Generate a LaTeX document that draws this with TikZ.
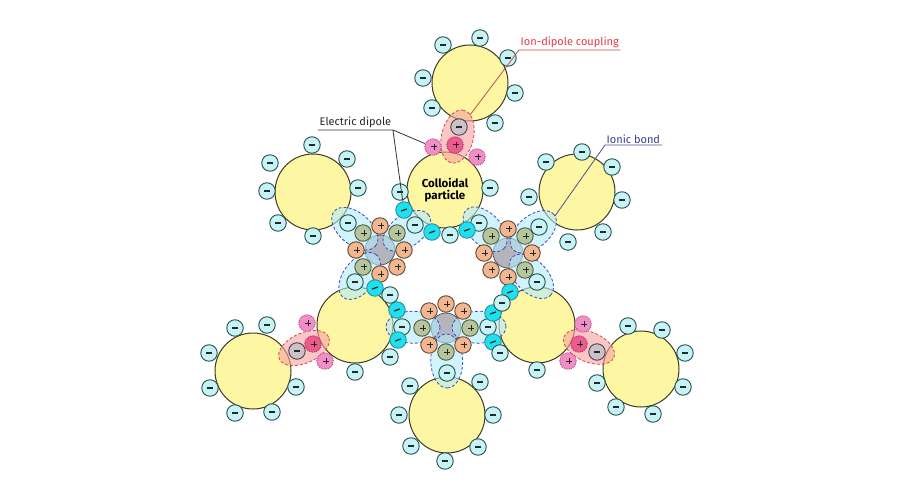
\documentclass[tikz,border=0pt]{standalone}
\usepackage{fontspec}
\setmainfont{Fira Sans}
\usetikzlibrary{calc,shapes.geometric}
\definecolor{partF}{HTML}{FDF6A3}
\definecolor{partD}{HTML}{3C3C28}
\definecolor{negF}{HTML}{C8F3F6}
\definecolor{negD}{HTML}{28504F}
\definecolor{dipF}{HTML}{1FE0EE}
\definecolor{dipD}{HTML}{2A8C9C}
\definecolor{opF}{HTML}{F4B68E}
\definecolor{opD}{HTML}{5E4836}
\definecolor{gpF}{HTML}{B7C59C}
\definecolor{gpD}{HTML}{4E5A44}
\definecolor{hubF}{HTML}{B4B4BC}
\definecolor{hubD}{HTML}{4C5A68}
\definecolor{ppF}{HTML}{F38DC6}
\definecolor{ppD}{HTML}{B8407E}
\definecolor{rpF}{HTML}{EE5A8C}
\definecolor{rpD}{HTML}{A83060}
\definecolor{gnF}{HTML}{CBC1C6}
\definecolor{gnD}{HTML}{4A4448}
\definecolor{brF}{HTML}{B2EBFA}
\definecolor{brD}{HTML}{3A4CC0}
\definecolor{pkF}{HTML}{F7A0A0}
\definecolor{pkD}{HTML}{D84848}
\definecolor{idT}{HTML}{E8384A}
\definecolor{idL}{HTML}{C0504A}
\definecolor{ibT}{HTML}{3A3A9C}
\definecolor{ibL}{HTML}{4E4E8E}
\definecolor{sgn}{HTML}{1E2A2C}
\newcommand\sgnplus{\rlap{\raisebox{2.5pt}{\rule{6pt}{1pt}}}\hspace{2.5pt}\rule{1pt}{6pt}\hspace{2.5pt}}
\newcommand\sgnminus{\rule{6pt}{1.3pt}}
\newcommand\bridge[3]{\path ($(#1)!6pt!(#2)$) -- ($(#1)!60pt!(#2)$) node[midway, sloped, bridgeN] (#3) {};}
\begin{document}
\begin{tikzpicture}[x=1pt,y=-1pt,
  ion/.style={circle, draw, line width=0.9pt, minimum size=16.5pt, inner sep=0pt, text=sgn},
  neg/.style={ion, fill=negF, draw=negD},
  dip/.style={ion, fill=dipF, draw=dipD, rotate=20},
  op/.style={ion, fill=opF, draw=opD},
  gp/.style={ion, fill=gpF, draw=gpD},
  pp/.style={ion, fill=ppF, draw=ppD, densely dotted},
  rp/.style={ion, fill=rpF, draw=rpD, densely dotted},
  gn/.style={ion, fill=gnF, draw=gnD},
  hub/.style={circle, draw=hubD, fill=hubF, line width=0.8pt, minimum size=30pt, inner sep=0pt},
  particle/.style={circle, draw=partD, fill=partF, line width=1pt, minimum size=76pt, inner sep=0pt},
  bridgeN/.style={ellipse, minimum width=54pt, minimum height=32pt, inner sep=0pt, fill=brF, fill opacity=0.6, draw=brD, dash pattern=on 3pt off 2pt, line width=0.8pt},
  pinkN/.style={ellipse, minimum width=54pt, minimum height=32pt, inner sep=0pt, fill=pkF, fill opacity=0.6, draw=pkD, dash pattern=on 3pt off 2pt, line width=0.8pt},
  lab/.style={font=\fontsize{11}{13}\selectfont, inner sep=1.5pt, anchor=south west},
  leader/.style={line width=0.8pt},
]
\useasboundingbox (0,0) rectangle (900,500);

% particles
\node[particle] (P1) at (470,83) {};
\node[particle, align=center, font=\bfseries\fontsize{11.5}{12.5}\selectfont] (P2) at (445,190) {Colloidal\\particle};
\node[particle] (P3) at (313,192) {};
\node[particle] (P4) at (577,192) {};
\node[particle] (P5) at (355,325) {};
\node[particle] (P6) at (537,325) {};
\node[particle] (P7) at (253,371) {};
\node[particle] (P8) at (641,369) {};
\node[particle] (P9) at (447,415) {};

% coordinates
\coordinate (HA) at (380,250);
\coordinate (HB) at (508,253);
\coordinate (HC) at (446,328);
\coordinate (ca1) at (348,223);
\coordinate (ca2) at (415,225);
\coordinate (ca3) at (355,282);
\coordinate (cb1) at (479,223);
\coordinate (cb2) at (539,227);
\coordinate (cb3) at (537,282);
\coordinate (cc1) at (402,327);
\coordinate (cc2) at (488,327);
\coordinate (cc3) at (447,373);

% ion-dipole regions
\path (P1.center) -- (P2.center) node[midway, sloped, pinkN] (E1) {};
\path (P7.center) -- (P5.center) node[midway, sloped, pinkN, minimum height=30pt] (E2) {};
\path (P6.center) -- (P8.center) node[midway, sloped, pinkN, minimum height=30pt] (E3) {};

% hubs
\node[hub] (HAn) at (HA) {};
\node[hub] (HBn) at (HB) {};
\node[hub] (HCn) at (HC) {};

% ionic bond regions
\bridge{HA}{ca1}{EA1}
\bridge{HA}{ca2}{EA2}
\bridge{HA}{ca3}{EA3}
\bridge{HB}{cb1}{EB1}
\bridge{HB}{cb2}{EB2}
\bridge{HB}{cb3}{EB3}
\bridge{HC}{cc1}{EC1}
\bridge{HC}{cc2}{EC2}
\bridge{HC}{cc3}{EC3}

% hub A ring
\node[op] (A1) at ($(HA)+(0:24pt)$) {\sgnplus};
\node[gp] (A2) at ($(HA)+(45:24pt)$) {\sgnplus};
\node[op] (A3) at ($(HA)+(90:24pt)$) {\sgnplus};
\node[gp] (A4) at ($(HA)+(135:24pt)$) {\sgnplus};
\node[op] (A5) at ($(HA)+(180:24pt)$) {\sgnplus};
\node[gp] (A6) at ($(HA)+(225:24pt)$) {\sgnplus};
\node[op] (A7) at ($(HA)+(270:24pt)$) {\sgnplus};
\node[op] (A8) at ($(HA)+(315:24pt)$) {\sgnplus};
% hub B ring
\node[op] (B1) at ($(HB)+(0:24pt)$) {\sgnplus};
\node[gp] (B2) at ($(HB)+(45:24pt)$) {\sgnplus};
\node[op] (B3) at ($(HB)+(90:24pt)$) {\sgnplus};
\node[gp] (B4) at ($(HB)+(135:24pt)$) {\sgnplus};
\node[op] (B5) at ($(HB)+(180:24pt)$) {\sgnplus};
\node[op] (B6) at ($(HB)+(225:24pt)$) {\sgnplus};
\node[op] (B7) at ($(HB)+(270:24pt)$) {\sgnplus};
\node[gp] (B8) at ($(HB)+(315:24pt)$) {\sgnplus};
% hub C ring
\node[gp] (C1) at ($(HC)+(0:24pt)$) {\sgnplus};
\node[op] (C2) at ($(HC)+(45:24pt)$) {\sgnplus};
\node[op] (C3) at ($(HC)+(90:24pt)$) {\sgnplus};
\node[op] (C4) at ($(HC)+(135:24pt)$) {\sgnplus};
\node[gp] (C5) at ($(HC)+(180:24pt)$) {\sgnplus};
\node[op] (C6) at ($(HC)+(225:24pt)$) {\sgnplus};
\node[gp] (C7) at ($(HC)+(270:24pt)$) {\sgnplus};
\node[op] (C8) at ($(HC)+(315:24pt)$) {\sgnplus};

% bridge anions
\node[neg] (a1) at (ca1) {\sgnminus};
\node[neg] (a2) at (ca2) {\sgnminus};
\node[neg] (a3) at (ca3) {\sgnminus};
\node[neg] (b1) at (cb1) {\sgnminus};
\node[neg] (b2) at (cb2) {\sgnminus};
\node[neg] (b3) at (cb3) {\sgnminus};
\node[neg] (c1) at (cc1) {\sgnminus};
\node[neg] (c2) at (cc2) {\sgnminus};
\node[neg] (c3) at (cc3) {\sgnminus};

% dipoles
\node[dip] (d1) at (404,210) {\sgnminus};
\node[dip] (d2) at (432,232) {\sgnminus};
\node[dip] (d3) at (467,230) {\sgnminus};
\node[dip] (d4) at (375,288) {\sgnminus};
\node[dip] (d5) at (397,310) {\sgnminus};
\node[dip] (d6) at (398,340) {\sgnminus};
\node[dip] (d7) at (510,292) {\sgnminus};
\node[dip] (d8) at (493,313) {\sgnminus};
\node[dip] (d9) at (493,342) {\sgnminus};

% surface anions
\node[neg] (n1) at (443,45) {\sgnminus};
\node[neg] (n2) at (480,38) {\sgnminus};
\node[neg] (n3) at (508,58) {\sgnminus};
\node[neg] (n4) at (515,93) {\sgnminus};
\node[neg] (n5) at (495,123) {\sgnminus};
\node[neg] (n6) at (432,108) {\sgnminus};
\node[neg] (n7) at (423,78) {\sgnminus};
\node[neg] (n8) at (400,192) {\sgnminus};
\node[neg] (n9) at (490,188) {\sgnminus};
\node[neg] (n10) at (450,235) {\sgnminus};
\node[neg] (n11) at (312,145) {\sgnminus};
\node[neg] (n12) at (347,159) {\sgnminus};
\node[neg] (n13) at (358,188) {\sgnminus};
\node[neg] (n14) at (270,163) {\sgnminus};
\node[neg] (n15) at (267,191) {\sgnminus};
\node[neg] (n16) at (278,223) {\sgnminus};
\node[neg] (n17) at (313,236) {\sgnminus};
\node[neg] (n18) at (582,152) {\sgnminus};
\node[neg] (n19) at (612,167) {\sgnminus};
\node[neg] (n20) at (622,200) {\sgnminus};
\node[neg] (n21) at (603,232) {\sgnminus};
\node[neg] (n22) at (568,242) {\sgnminus};
\node[neg] (n23) at (529,197) {\sgnminus};
\node[neg] (n24) at (546,162) {\sgnminus};
\node[neg] (n25) at (390,295) {\sgnminus};
\node[neg] (n26) at (390,357) {\sgnminus};
\node[neg] (n27) at (355,372) {\sgnminus};
\node[neg] (n28) at (502,303) {\sgnminus};
\node[neg] (n29) at (500,353) {\sgnminus};
\node[neg] (n30) at (537,370) {\sgnminus};
\node[neg] (n31) at (235,328) {\sgnminus};
\node[neg] (n32) at (267,325) {\sgnminus};
\node[neg] (n33) at (209,353) {\sgnminus};
\node[neg] (n34) at (210,388) {\sgnminus};
\node[neg] (n35) at (235,413) {\sgnminus};
\node[neg] (n36) at (272,412) {\sgnminus};
\node[neg] (n37) at (296,387) {\sgnminus};
\node[neg] (n38) at (628,326) {\sgnminus};
\node[neg] (n39) at (662,330) {\sgnminus};
\node[neg] (n40) at (685,353) {\sgnminus};
\node[neg] (n41) at (683,387) {\sgnminus};
\node[neg] (n42) at (653,414) {\sgnminus};
\node[neg] (n43) at (616,407) {\sgnminus};
\node[neg] (n44) at (597,383) {\sgnminus};
\node[neg] (n45) at (410,386) {\sgnminus};
\node[neg] (n46) at (480,382) {\sgnminus};
\node[neg] (n47) at (399,415) {\sgnminus};
\node[neg] (n48) at (493,415) {\sgnminus};
\node[neg] (n49) at (411,446) {\sgnminus};
\node[neg] (n50) at (478,447) {\sgnminus};
\node[neg] (n51) at (445,461) {\sgnminus};

% ion-dipole groups
\node[gn] (t1) at (459,127) {\sgnminus};
\node[rp] (t2) at (455,145) {\sgnplus};
\node[pp] (t3) at (433,147) {\sgnplus};
\node[pp] (t4) at (477,157) {\sgnplus};
\node[gn] (l1) at (297,351) {\sgnminus};
\node[rp] (l2) at (313,344) {\sgnplus};
\node[pp] (l3) at (307,323) {\sgnplus};
\node[pp] (l4) at (325,361) {\sgnplus};
\node[gn] (r1) at (597,352) {\sgnminus};
\node[rp] (r2) at (579,344) {\sgnplus};
\node[pp] (r3) at (583,324) {\sgnplus};
\node[pp] (r4) at (568,361) {\sgnplus};

% labels
\node[lab, text=idT] (Lid) at (519,50) {Ion-dipole coupling};
\coordinate (eid) at (470,115);
\draw[leader, idL] (Lid.south east) -- (Lid.south west) -- (eid);
\node[lab, text=ibT] (Lib) at (605,145) {Ionic bond};
\coordinate (eib) at (555,216);
\draw[leader, ibL] (Lib.south east) -- (Lib.south west) -- (eib);
\node[lab, text=black!85] (Led) at (318,130) {Electric dipole};
\draw[leader, black!80] (Led.south west) -- (Led.south east) -- (t3);
\draw[leader, black!80] (Led.south east) -- (d1);
\end{tikzpicture}
\end{document}
